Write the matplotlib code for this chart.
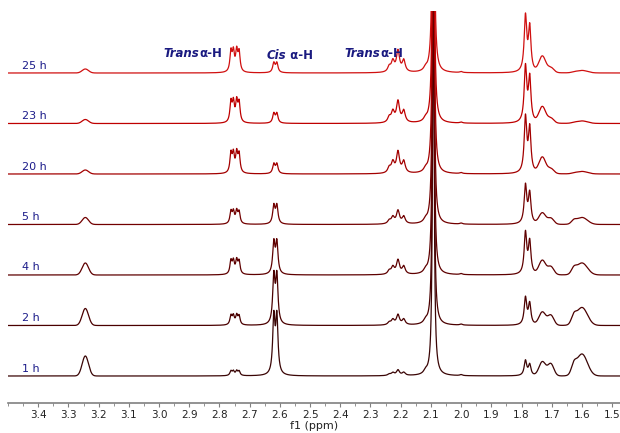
import numpy as np
import matplotlib.pyplot as plt
from matplotlib.ticker import FixedLocator, MultipleLocator

# spectra, bottom to top
times = ['1 h', '2 h', '4 h', '5 h', '20 h', '23 h', '25 h']
colors = ['#3a0505', '#4a0000', '#5e0000', '#720000', '#a30000', '#bf0000', '#d01010']

# peak heights for each spectrum (same order as times)
peak_325 = [20, 17, 12, 7, 4, 4, 4]
trans_275 = [4.5, 9, 13, 12, 19, 20, 20]
cis_262 = [56, 47, 31, 18, 9.5, 9.5, 9.5]
trans_221 = [5.5, 10, 14, 13, 21, 21, 21]
shoulder_212 = [3, 3, 3, 3, 3, 3, 3]
peak_209 = [420, 420, 420, 420, 420, 420, 420]
peak_200 = [1, 1, 1, 1, 1, 1, 1]
peak_179 = [15, 27, 41, 38, 55, 55, 55]
peak_177 = [11, 21, 32, 30, 44, 44, 44]
hump_173 = [14, 13, 14, 11, 16, 16, 16]
hump_170 = [12, 10, 8, 6, 5, 5, 5]
hump_160 = [22, 18, 12, 7, 2.5, 2.5, 2.5]
hump_163 = [8, 7, 5, 3, 0.5, 0.5, 0.5]

# multiplet line positions (ppm) and relative intensities
trans_275_lines = [(2.762, 1.0), (2.754, 0.95), (2.743, 1.0), (2.735, 0.95)]
cis_262_lines = [(2.620, 1.0), (2.610, 1.0)]
trans_221_lines = [(2.238, 0.25), (2.226, 0.5), (2.209, 1.0), (2.190, 0.55)]

# peak labels: ppm, height, italic word, rest
labels = [(2.985, 346, 'Trans', '\u03b1-H'),
          (2.645, 344, 'Cis', ' \u03b1-H'),
          (2.385, 346, 'Trans', '\u03b1-H')]


def lor(x, x0, w):
    return w ** 2 / ((x - x0) ** 2 + w ** 2)


def gau(x, x0, s):
    return np.exp(-0.5 * ((x - x0) / s) ** 2)


def spectrum(x, i):
    y = peak_325[i] * gau(x, 3.244, 0.0105)
    for pos, rel in trans_275_lines:
        y += trans_275[i] * rel * lor(x, pos, 0.004)
    for pos, rel in cis_262_lines:
        y += cis_262[i] * rel * lor(x, pos, 0.0045)
    for pos, rel in trans_221_lines:
        y += trans_221[i] * rel * lor(x, pos, 0.006)
    y += shoulder_212[i] * lor(x, 2.118, 0.007)
    y += peak_209[i] * lor(x, 2.092, 0.003)
    y += peak_200[i] * lor(x, 2.000, 0.005)
    y += peak_179[i] * lor(x, 1.787, 0.005)
    y += peak_177[i] * lor(x, 1.773, 0.005)
    y += hump_173[i] * gau(x, 1.731, 0.011)
    y += hump_170[i] * gau(x, 1.703, 0.010)
    y += hump_160[i] * gau(x, 1.600, 0.018)
    y += hump_163[i] * gau(x, 1.627, 0.008)
    return y


fig = plt.figure(figsize=(6.2, 4.33), dpi=100)
ax = fig.add_axes([8 / 620, 30 / 433, 612 / 620, 392 / 433])

x = np.linspace(3.5, 1.47, 8000)
step = 50.5
for i, t in enumerate(times):
    base = 27 + i * step
    ax.plot(x, base + spectrum(x, i), color=colors[i], lw=0.9)
    ax.text(3.455, base + 7.5, t, color='#1c1c8a', fontsize=8, va='center')

navy = '#1a1a80'
for xt, yt, word, rest in labels:
    t1 = ax.text(xt, yt, word, color=navy, fontsize=8.5, style='italic', weight='bold')
    ax.annotate(rest, xy=(1, 0), xycoords=t1, va='bottom',
                color=navy, fontsize=8.5, weight='bold')

ax.set_xlim(3.5, 1.474)
ax.set_ylim(0, 392)
ax.xaxis.set_major_locator(FixedLocator(np.round(np.arange(1.5, 3.45, 0.1), 1)))
ax.xaxis.set_minor_locator(MultipleLocator(0.05))
ax.xaxis.set_major_formatter(plt.FormatStrFormatter('%.1f'))
ax.tick_params(axis='x', which='both', colors='#808080', labelcolor='#222222',
               labelsize=7.5, pad=2)
ax.tick_params(axis='x', which='major', length=3)
ax.tick_params(axis='x', which='minor', length=2)
ax.set_yticks([])
for s in ['top', 'left', 'right']:
    ax.spines[s].set_visible(False)
ax.spines['bottom'].set_color('#808080')
ax.spines['bottom'].set_linewidth(1.2)
ax.set_xlabel('f1 (ppm)', fontsize=8, color='#222222', labelpad=1)

fig.savefig('out.png', dpi=100)
